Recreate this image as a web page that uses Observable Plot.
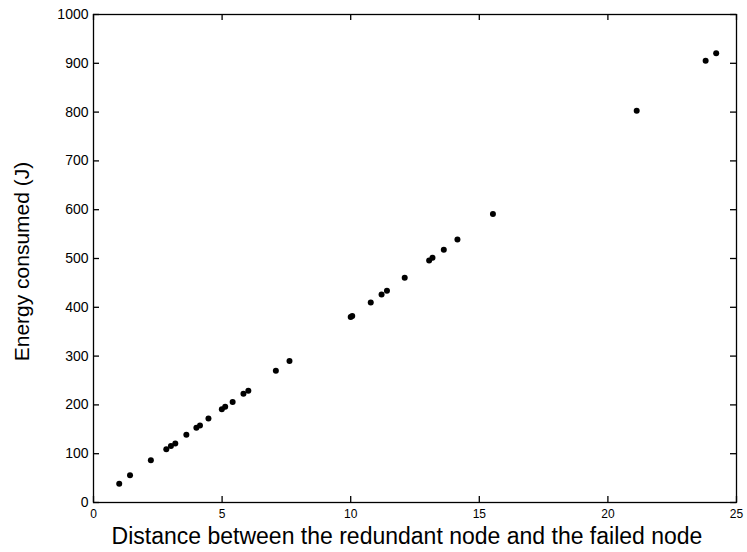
<!DOCTYPE html>
<html>
<head>
<meta charset="utf-8">
<script src="https://cdn.jsdelivr.net/npm/d3@7"></script>
<script src="https://cdn.jsdelivr.net/npm/@observablehq/plot@0.6"></script>
<style>
  html, body { margin: 0; padding: 0; background: #fff; }
  svg { display: block; }
</style>
</head>
<body>
<div id="chart"></div>
<script>
const distance = [1.0, 1.42, 2.23, 2.83, 3.01, 3.18, 3.61, 4.0, 4.14, 4.47, 4.99, 5.12, 5.41, 5.83, 6.02, 7.09, 7.62, 10.0, 10.06, 10.78, 11.2, 11.41, 12.1, 13.05, 13.18, 13.62, 14.15, 15.53, 21.12, 23.8, 24.21];
const energy   = [38.6, 55.8, 86.5, 109, 116, 121, 139, 153, 158, 172, 191, 196, 206, 223, 229, 270, 290, 380, 382, 410, 426, 434, 460.5, 496, 501.5, 518, 539, 591, 803, 905, 920.6];
const xTicks = [0, 5, 10, 15, 20, 25];
const yTicks = [0, 100, 200, 300, 400, 500, 600, 700, 800, 900, 1000];
const xLabel = "Distance between the redundant node and the failed node";
const yLabel = "Energy consumed (J)";

const data = distance.map((d, i) => ({x: d, y: energy[i]}));
const plain = d3.format("d");

const W = 747, H = 552;
const mL = 93, mR = 11, mT = 14, mB = 50;
const fw = W - mL - mR, fh = H - mT - mB;
const xDom = [0, 25], yDom = [0, 1000];
const tk = 6; // inward tick length in px
const tx = (xDom[1] - xDom[0]) * tk / fw; // same length in x units
const ty = (yDom[1] - yDom[0]) * tk / fh; // same length in y units

const chart = Plot.plot({
  width: W,
  height: H,
  marginLeft: mL,
  marginRight: mR,
  marginTop: mT,
  marginBottom: mB,
  style: {fontFamily: "'Liberation Sans', Arial, Helvetica, sans-serif", fontSize: "13px", color: "#000", background: "#fff"},
  x: {domain: xDom, axis: null},
  y: {domain: yDom, axis: null},
  marks: [
    Plot.frame({stroke: "#000", strokeWidth: 1.3}),
    // inward ticks on all four sides
    Plot.ruleX(xTicks, {x: d => d, y1: yDom[0], y2: yDom[0] + ty, stroke: "#000", strokeWidth: 1.3}),
    Plot.ruleX(xTicks, {x: d => d, y1: yDom[1] - ty, y2: yDom[1], stroke: "#000", strokeWidth: 1.3}),
    Plot.ruleY(yTicks, {y: d => d, x1: xDom[0], x2: xDom[0] + tx, stroke: "#000", strokeWidth: 1.3}),
    Plot.ruleY(yTicks, {y: d => d, x1: xDom[1] - tx, x2: xDom[1], stroke: "#000", strokeWidth: 1.3}),
    // tick labels
    Plot.axisX(xTicks, {anchor: "bottom", tickSize: 0, tickPadding: 7, fontSize: 12, tickFormat: plain, label: null}),
    Plot.axisY(yTicks, {anchor: "left", tickSize: 0, tickPadding: 5, fontSize: 14, tickFormat: plain, label: null}),
    Plot.dot(data, {x: "x", y: "y", r: 3, fill: "#000", stroke: "none"}),
    Plot.text([xLabel], {frameAnchor: "bottom", textAnchor: "middle", lineAnchor: "middle", dx: -8, dy: 34, fontSize: 23, fill: "#000"}),
    Plot.text([yLabel], {frameAnchor: "left", textAnchor: "middle", lineAnchor: "middle", dx: -71, dy: 3, rotate: -90, fontSize: 21, fill: "#000"})
  ]
});
document.getElementById("chart").appendChild(chart);
</script>
</body>
</html>
